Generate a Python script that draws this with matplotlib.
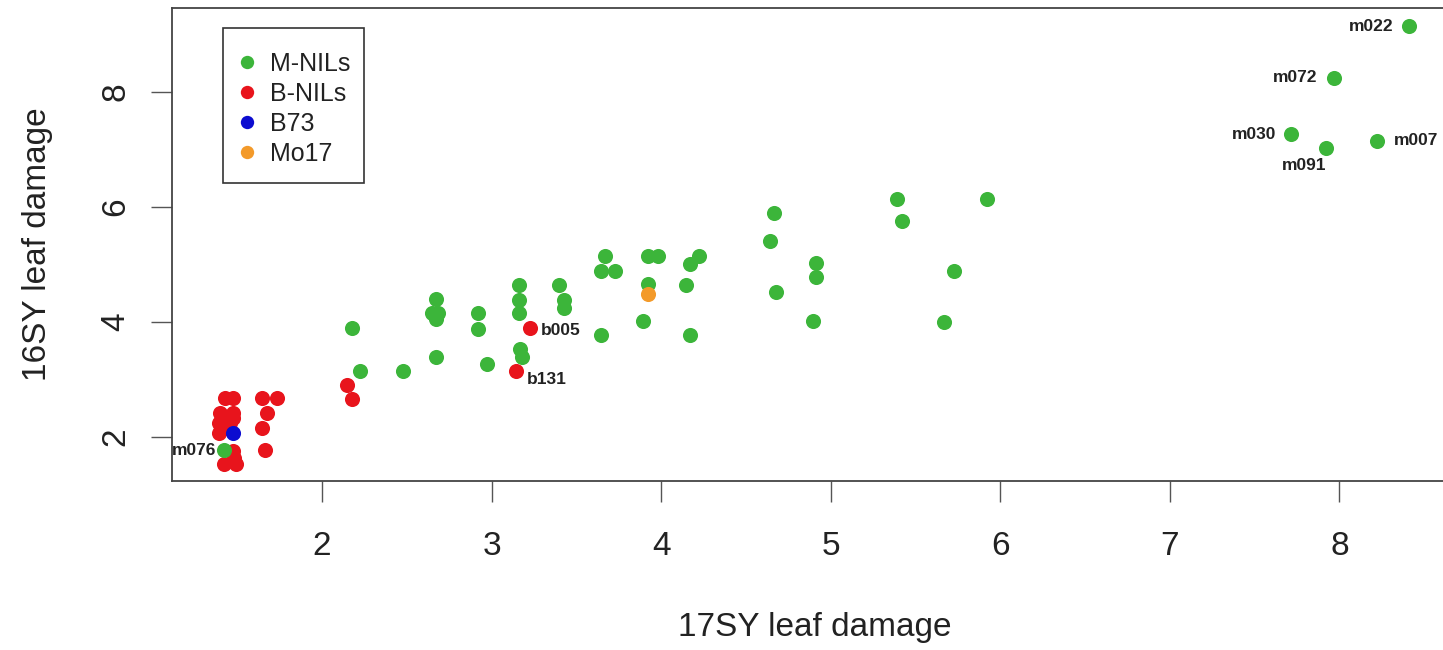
import matplotlib
matplotlib.use("Agg")
import matplotlib.pyplot as plt
from matplotlib.lines import Line2D
from matplotlib.patches import Rectangle

plt.rcParams['font.family'] = ['Liberation Sans', 'DejaVu Sans']

# ---- data ----
m_nils_x = [8.41, 7.97, 7.715, 7.92, 8.22,
            5.39, 5.42, 5.92, 5.725, 5.67,
            3.67, 3.645, 3.73, 3.925, 3.98, 4.17, 4.225, 3.925, 4.145, 3.895, 3.645, 4.17,
            4.665, 4.645, 4.915, 4.915, 4.675, 4.895,
            2.175, 2.225, 2.475, 2.673, 2.65, 2.685, 2.67, 2.675, 2.92, 2.92, 2.975,
            3.16, 3.16, 3.16, 3.165, 3.18, 3.395, 3.425, 3.425,
            1.42]
m_nils_y = [9.14, 8.25, 7.27, 7.02, 7.14,
            6.14, 5.76, 6.14, 4.89, 4.00,
            5.15, 4.89, 4.89, 5.15, 5.15, 5.01, 5.15, 4.66, 4.64, 4.02, 3.77, 3.77,
            5.89, 5.40, 5.02, 4.77, 4.51, 4.02,
            3.89, 3.145, 3.145, 4.39, 4.15, 4.15, 4.05, 3.38, 4.15, 3.87, 3.27,
            4.64, 4.38, 4.15, 3.53, 3.38, 4.64, 4.38, 4.24,
            1.77]
b_nils_x = [3.227, 3.145, 2.146, 2.175,
            1.645, 1.735, 1.675, 1.645, 1.665,
            1.43, 1.475, 1.40, 1.475, 1.39, 1.455, 1.475, 1.39, 1.44, 1.475, 1.48, 1.42, 1.49]
b_nils_y = [3.89, 3.15, 2.90, 2.65,
            2.67, 2.67, 2.41, 2.15, 1.77,
            2.67, 2.67, 2.41, 2.41, 2.24, 2.24, 2.33, 2.06, 2.15, 1.75, 1.62, 1.53, 1.53]
b73_x, b73_y = [1.477], [2.06]
mo17_x, mo17_y = [3.925], [4.49]

# labelled lines: name, x, y
label_names = ["m022", "m072", "m030", "m007", "m091", "m076", "b005", "b131"]
label_x = [8.41, 7.97, 7.715, 8.22, 7.92, 1.42, 3.227, 3.145]
label_y = [9.14, 8.25, 7.27, 7.14, 7.02, 1.77, 3.89, 3.15]

legend_labels = ["M-NILs", "B-NILs", "B73", "Mo17"]
xticks = [2, 3, 4, 5, 6, 7, 8]
yticks = [2, 4, 6, 8]

# ---- style ----
c_green = '#3cb53a'
c_red = '#e8141c'
c_blue = '#0c0cd0'
c_orange = '#f39a2a'
ms = 118

W, H = 1443, 650
fig = plt.figure(figsize=(W / 100, H / 100), dpi=100)
ax_left, ax_right, ax_top, ax_bottom = 172, 1458, 8, 481
ax = fig.add_axes([ax_left / W, (H - ax_bottom) / H,
                   (ax_right - ax_left) / W, (ax_bottom - ax_top) / H])
axw = ax_right - ax_left
axh = ax_bottom - ax_top

def px2ax(px, py):
    return ((px - ax_left) / axw, (ax_bottom - py) / axh)

ax.scatter(b_nils_x, b_nils_y, s=ms, color=c_red, linewidths=0, zorder=2)
ax.scatter(m_nils_x, m_nils_y, s=ms, color=c_green, linewidths=0, zorder=3)
ax.scatter(b73_x, b73_y, s=ms, color=c_blue, linewidths=0, zorder=4)
ax.scatter(mo17_x, mo17_y, s=ms, color=c_orange, linewidths=0, zorder=4)

# label offsets in pixels
offsets = {"m022": (-15, 0, 'right'), "m072": (-17, 0, 'right'),
           "m030": (-15, -1, 'right'), "m007": (17, 1, 'left'),
           "m091": (-22, -17, 'center'), "m076": (-7, -1, 'right'),
           "b005": (11, -2, 'left'), "b131": (11, -9, 'left')}
for n, x, y in zip(label_names, label_x, label_y):
    dx, dy, ha = offsets[n]
    ax.annotate(n, (x, y), xytext=(dx, dy), textcoords='offset pixels',
                ha=ha, va='center', fontsize=12.5, fontweight='bold',
                color='#222222', zorder=5)

ax.set_xlim(1.115, 8.70)
ax.set_ylim(1.228, 9.46)
ax.set_xticks(xticks)
ax.set_yticks(yticks)
ax.set_xticklabels([str(v) for v in xticks])
ax.set_yticklabels([str(v) for v in yticks], rotation=90, va='center')

for sp in ax.spines.values():
    sp.set_color('#444444')
    sp.set_linewidth(1.3)
ax.tick_params(axis='both', length=15, width=1.0, color='#555555',
               labelsize=24, labelcolor='#222222')
ax.tick_params(axis='x', pad=21)
ax.tick_params(axis='y', pad=14)

ax.set_xlabel("17SY leaf damage", fontsize=24, color='#222222')
ax.set_ylabel("16SY leaf damage", fontsize=24, color='#222222')
ax.xaxis.set_label_coords(0.5, -(612 - ax_bottom) / axh)
ax.yaxis.set_label_coords(-(ax_left - 53) / axw, 0.5)

# legend frame (drawn separately so its padding can match)
fx0, fy0 = px2ax(222.7, 182.7)
fx1, fy1 = px2ax(364, 28.3)
ax.add_patch(Rectangle((fx0, fy0), fx1 - fx0, fy1 - fy0, transform=ax.transAxes,
                       facecolor='white', edgecolor='#333333', linewidth=1.2,
                       zorder=4.5, clip_on=False))

handles = [Line2D([0], [0], marker='o', linestyle='none', markersize=9.6,
                  markerfacecolor=c, markeredgewidth=0)
           for c in [c_green, c_red, c_blue, c_orange]]
leg = ax.legend(handles, legend_labels, loc='upper left',
                bbox_to_anchor=px2ax(236, 52), borderaxespad=0, borderpad=0,
                frameon=False, fontsize=18, handlelength=0.88,
                handletextpad=0.48, labelspacing=0.235)
leg.set_zorder(6)
for t in leg.get_texts():
    t.set_color('#222222')

fig.savefig("out.png", dpi=100)
